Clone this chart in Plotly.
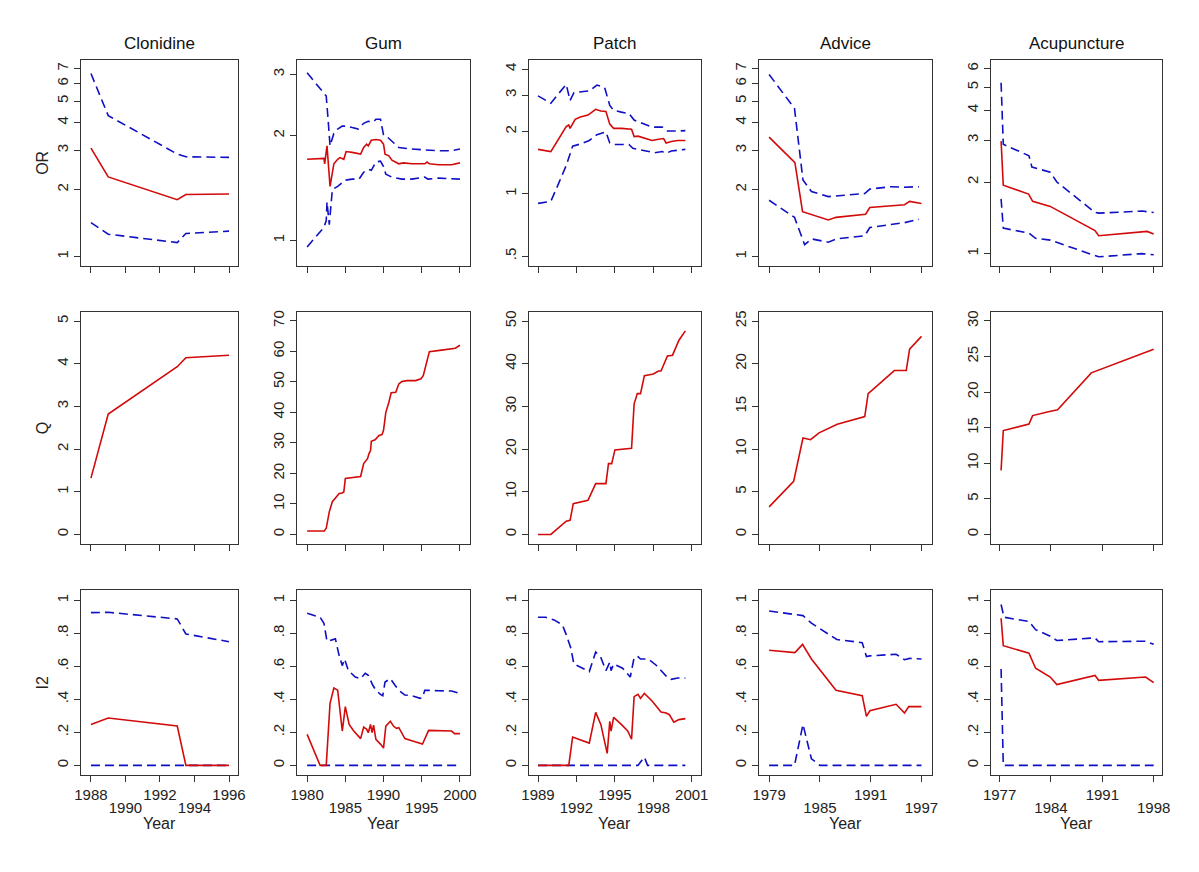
import plotly.graph_objects as go

# ---------------- DATA ----------------
panel_titles = ["Clonidine", "Gum", "Patch", "Advice", "Acupuncture"]
row_titles = ["OR", "Q", "I2"]
x_title = "Year"

# Clonidine
clon_year = [1988, 1989, 1993, 1993.5, 1996]
clon_or = [3.07, 2.28, 1.80, 1.90, 1.91]
clon_or_lo = [1.42, 1.26, 1.155, 1.27, 1.30]
clon_or_hi = [6.65, 4.30, 2.89, 2.81, 2.79]
clon_q = [1.32, 2.82, 3.93, 4.14, 4.20]
clon_i2 = [0.248, 0.287, 0.238, 0.0, 0.0]
clon_i2_lo = [0, 0, 0, 0, 0]
clon_i2_hi = [0.925, 0.927, 0.887, 0.796, 0.749]

# Gum
gum_or_year = [1980, 1982.2, 1982.3, 1982.6, 1983.0, 1983.5, 1984.0, 1984.3, 1984.8, 1985.1, 1985.9,
               1987.0, 1987.4, 1987.8, 1988.0, 1988.4, 1989.0, 1989.6, 1990.0, 1990.2, 1990.7, 1991.1,
               1992.0, 1992.6, 1993.7, 1995.4, 1995.7, 1996.0, 1997.2, 1998.9, 2000]
gum_or = [1.71, 1.72, 1.66, 1.87, 1.43, 1.66, 1.71, 1.73, 1.71, 1.80, 1.79,
          1.77, 1.85, 1.89, 1.87, 1.94, 1.95, 1.94, 1.89, 1.77, 1.75, 1.70,
          1.66, 1.67, 1.66, 1.66, 1.68, 1.66, 1.65, 1.65, 1.67]
gum_hi_year = [1980, 1981.7, 1982.2, 1982.5, 1982.7, 1983.0, 1983.5, 1984.0, 1984.6, 1985.2, 1985.9,
               1986.7, 1987.4, 1988.0, 1988.7, 1989.0, 1989.6, 1990.0, 1990.4, 1991.1, 1992.0,
               1993.7, 1997.2, 1998.9, 2000]
gum_or_hi = [3.03, 2.72, 2.63, 2.60, 2.29, 1.87, 2.03, 2.09, 2.13, 2.13, 2.11,
             2.09, 2.17, 2.20, 2.19, 2.23, 2.23, 2.01, 1.99, 1.93, 1.85,
             1.83, 1.81, 1.81, 1.83]
gum_lo_year = [1980, 1982.2, 1982.5, 1982.6, 1982.9, 1983.3, 1984.0, 1985.0, 1985.9, 1986.8, 1987.4,
               1988.0, 1988.4, 1989.0, 1989.6, 1990.0, 1990.3, 1991.1, 1992.4, 1993.7, 1995.4,
               1995.8, 1997.2, 2000]
gum_or_lo = [0.958, 1.09, 1.14, 1.29, 1.11, 1.40, 1.43, 1.49, 1.50, 1.50, 1.57,
             1.60, 1.59, 1.68, 1.69, 1.63, 1.55, 1.52, 1.50, 1.50, 1.52,
             1.50, 1.51, 1.50]
gum_q_year = [1980, 1982.25, 1982.5, 1982.9, 1983.3, 1983.8, 1984.2, 1984.6, 1984.8, 1985.0, 1985.5,
              1986.4, 1987.0, 1987.4, 1987.9, 1988.1, 1988.3, 1988.4, 1988.9, 1989.4, 1989.8,
              1990.0, 1990.3, 1990.7, 1991.0, 1991.6, 1992.0, 1992.4, 1993.1, 1994.2, 1994.9,
              1995.2, 1996.0, 1997.6, 1999.4, 2000]
gum_q = [1.1, 1.1, 2.0, 7.4, 10.7, 12.3, 13.4, 13.6, 13.9, 18.3, 18.5,
         18.8, 19.0, 23.2, 24.8, 26.5, 27.5, 30.5, 31.0, 32.4, 32.7,
         34.1, 40.0, 43.3, 46.4, 46.6, 49.3, 50.1, 50.4, 50.4, 51.0,
         52.0, 59.9, 60.4, 61.0, 62.0]
gum_i2_year = [1980, 1981.7, 1982.5, 1983.0, 1983.5, 1984.0, 1984.6, 1985.0, 1985.5, 1986.1, 1987.0,
               1987.4, 1987.8, 1988.0, 1988.3, 1988.5, 1988.7, 1989.0, 1989.6, 1989.9, 1990.0,
               1990.3, 1990.9, 1991.3, 1991.7, 1992.0, 1992.8, 1993.7, 1995.1, 1995.9, 1997.2,
               1998.9, 1999.3, 2000]
gum_i2 = [0.188, 0.0, 0.0, 0.376, 0.469, 0.455, 0.208, 0.356, 0.248, 0.208, 0.162,
          0.232, 0.218, 0.198, 0.248, 0.198, 0.244, 0.158, 0.129, 0.105, 0.105,
          0.238, 0.267, 0.238, 0.224, 0.228, 0.162, 0.149, 0.129, 0.212, 0.212,
          0.208, 0.192, 0.192]
gum_i2hi_year = [1980, 1981.7, 1982.2, 1982.6, 1983.0, 1983.7, 1984.2, 1984.6, 1984.9, 1985.4, 1986.3,
                 1987.0, 1987.6, 1988.0, 1988.6, 1989.0, 1989.6, 1989.9, 1990.2, 1990.9, 1991.5,
                 1992.0, 1992.8, 1993.7, 1994.8, 1995.1, 1995.4, 1995.9, 1997.2, 1998.9, 2000]
gum_i2_hi = [0.921, 0.897, 0.861, 0.752, 0.756, 0.766, 0.663, 0.604, 0.644, 0.574, 0.535,
             0.525, 0.558, 0.545, 0.485, 0.455, 0.430, 0.422, 0.505, 0.525, 0.485,
             0.455, 0.426, 0.422, 0.406, 0.410, 0.455, 0.455, 0.452, 0.450, 0.436]
gum_i2lo_year = [1980, 2000]
gum_i2_lo = [0, 0]

# Patch
patch_or_year = [1989, 1990, 1991.2, 1991.4, 1991.5, 1991.9, 1992.3, 1992.9, 1993.5, 1993.9, 1994.3,
                 1994.6, 1994.9, 1995.5, 1996.3, 1996.5, 1996.8, 1997.3, 1997.9, 1998.3, 1998.8,
                 1999.0, 1999.4, 1999.9, 2000.5]
patch_or = [1.64, 1.60, 2.11, 2.15, 2.07, 2.29, 2.35, 2.40, 2.56, 2.51, 2.50,
            2.17, 2.07, 2.07, 2.05, 1.89, 1.90, 1.86, 1.81, 1.83, 1.85,
            1.76, 1.79, 1.81, 1.81]
patch_hi_year = [1989, 1990, 1991.2, 1991.5, 1991.8, 1992.3, 1993.0, 1993.6, 1994.2, 1994.6, 1994.9,
                 1995.5, 1996.1, 1996.5, 1997.3, 1997.9, 1998.7, 1999.1, 1999.9, 2000.5]
patch_or_hi = [2.97, 2.74, 3.38, 2.82, 3.08, 3.10, 3.14, 3.35, 3.26, 2.67, 2.53,
               2.48, 2.44, 2.27, 2.17, 2.10, 2.10, 2.01, 2.01, 2.02]
patch_lo_year = [1989, 1990, 1990.6, 1991.2, 1991.7, 1992.3, 1993.0, 1993.6, 1994.3, 1994.6, 1994.9,
                 1996.1, 1996.4, 1997.3, 1998.1, 1998.7, 1999.0, 1999.4, 2000.2, 2000.5]
patch_or_lo = [0.90, 0.92, 1.12, 1.37, 1.70, 1.74, 1.81, 1.93, 1.99, 1.76, 1.73,
               1.73, 1.66, 1.61, 1.58, 1.60, 1.57, 1.61, 1.64, 1.64]
patch_q_year = [1989, 1990, 1991.2, 1991.5, 1991.75, 1992.9, 1993.5, 1994.3, 1994.5, 1994.75, 1995.0,
                1995.75, 1996.0, 1996.3, 1996.5, 1996.75, 1997.0, 1997.3, 1998.0, 1998.4, 1998.6,
                1999.1, 1999.5, 2000.0, 2000.5]
patch_q = [0.0, 0.0, 3.1, 3.3, 7.2, 8.0, 11.9, 11.9, 16.6, 16.6, 19.8,
           20.1, 20.2, 20.2, 30.6, 33.0, 33.0, 37.2, 37.6, 38.3, 38.3,
           41.8, 42.0, 45.5, 47.7]
patch_i2_year = [1989, 1991.4, 1991.7, 1993.0, 1993.5, 1993.9, 1994.4, 1994.6, 1994.7, 1994.9, 1995.5,
                 1996.0, 1996.3, 1996.5, 1996.8, 1997.0, 1997.3, 1997.9, 1998.6, 1999.0, 1999.25,
                 1999.6, 2000.0, 2000.5]
patch_i2 = [0.0, 0.0, 0.172, 0.135, 0.321, 0.248, 0.073, 0.267, 0.208, 0.291, 0.248,
            0.208, 0.158, 0.416, 0.430, 0.406, 0.436, 0.390, 0.323, 0.317, 0.307,
            0.261, 0.277, 0.283]
patch_i2hi_year = [1989, 1989.6, 1990.25, 1990.9, 1991.2, 1991.55, 1991.8, 1992.3, 1993.0, 1993.5, 1993.9,
                   1994.3, 1994.6, 1994.7, 1994.9, 1995.6, 1996.2, 1996.5, 1996.8, 1997.0, 1997.6,
                   1998.2, 1999.0, 1999.4, 1999.9, 2000.5]
patch_i2_hi = [0.897, 0.897, 0.881, 0.851, 0.792, 0.713, 0.614, 0.594, 0.568, 0.687, 0.653,
               0.574, 0.624, 0.574, 0.614, 0.588, 0.535, 0.653, 0.659, 0.644, 0.644,
               0.608, 0.541, 0.521, 0.529, 0.529]
patch_i2lo_year = [1989, 1996.8, 1997.3, 1997.55, 2000.5]
patch_i2_lo = [0, 0, 0.05, 0, 0]

# Advice
adv_or_year = [1979, 1982.05, 1982.95, 1986.0, 1986.9, 1990.4, 1990.9, 1995.0, 1995.6, 1997]
adv_or = [3.44, 2.64, 1.59, 1.46, 1.50, 1.55, 1.66, 1.71, 1.77, 1.73]
adv_hi_year = [1979, 1982.0, 1983.0, 1984.0, 1986.0, 1990.3, 1990.9, 1993.4, 1995.0, 1996.7]
adv_or_hi = [6.59, 4.63, 2.21, 1.96, 1.86, 1.92, 2.01, 2.06, 2.05, 2.06]
adv_lo_year = [1979, 1982.0, 1983.2, 1984.0, 1986.0, 1987.0, 1990.3, 1990.9, 1995.0, 1996.7]
adv_or_lo = [1.79, 1.50, 1.13, 1.20, 1.16, 1.20, 1.24, 1.35, 1.42, 1.47]
adv_q_year = [1979, 1981.9, 1983.0, 1983.9, 1984.9, 1987.05, 1990.3, 1990.7, 1993.8, 1995.2, 1995.6, 1997]
adv_q = [3.23, 6.22, 11.3, 11.1, 11.9, 12.9, 13.8, 16.5, 19.2, 19.2, 21.7, 23.2]
adv_i2_year = [1979, 1982.05, 1982.95, 1984.0, 1986.9, 1990.0, 1990.5, 1990.9, 1994.0, 1995.0, 1995.5, 1997]
adv_i2 = [0.697, 0.683, 0.733, 0.644, 0.455, 0.422, 0.297, 0.331, 0.370, 0.317, 0.356, 0.356]
adv_i2hi_year = [1979, 1982.0, 1983.0, 1984.0, 1986.0, 1987.0, 1990.0, 1990.5, 1990.9, 1994.0, 1995.0, 1995.6, 1997]
adv_i2_hi = [0.935, 0.911, 0.907, 0.861, 0.792, 0.762, 0.743, 0.659, 0.663, 0.673, 0.640, 0.648, 0.644]
adv_i2lo_year = [1979, 1982.0, 1983.0, 1984.0, 1985.0, 1997]
adv_i2_lo = [0, 0, 0.248, 0.04, 0, 0]

# Acupuncture
acu_or_year = [1977.2, 1977.5, 1980.95, 1981.5, 1983.9, 1990.0, 1990.5, 1997.1, 1998]
acu_or = [2.97, 1.94, 1.78, 1.66, 1.58, 1.25, 1.19, 1.24, 1.21]
acu_hi_year = [1977.2, 1977.5, 1981.0, 1981.4, 1983.9, 1984.8, 1990.0, 1990.5, 1996.4, 1998]
acu_or_hi = [5.23, 2.88, 2.58, 2.31, 2.20, 2.00, 1.49, 1.48, 1.51, 1.49]
acu_lo_year = [1977.2, 1977.5, 1981.0, 1981.9, 1983.9, 1990.0, 1990.5, 1996.4, 1998]
acu_or_lo = [1.70, 1.28, 1.22, 1.16, 1.14, 0.98, 0.97, 1.00, 0.99]
acu_q_year = [1977.2, 1977.4, 1977.5, 1981.0, 1981.5, 1983.5, 1984.9, 1989.5, 1998]
acu_q = [9.0, 13.4, 14.6, 15.5, 16.7, 17.2, 17.5, 22.7, 26.0]
acu_i2_year = [1977.2, 1977.5, 1981.0, 1981.9, 1983.9, 1984.8, 1990.0, 1990.5, 1996.9, 1998]
acu_i2 = [0.891, 0.725, 0.679, 0.588, 0.535, 0.489, 0.545, 0.515, 0.535, 0.501]
acu_i2hi_year = [1977.2, 1977.6, 1981.0, 1981.9, 1983.9, 1984.8, 1990.0, 1990.5, 1996.9, 1998]
acu_i2_hi = [0.974, 0.897, 0.871, 0.822, 0.782, 0.756, 0.772, 0.749, 0.752, 0.733]
acu_i2lo_year = [1977.2, 1977.5, 1998]
acu_i2_lo = [0.584, 0, 0]

# tick labels
x_tickvals = [
    [1988, 1990, 1992, 1994, 1996],
    [1980, 1985, 1990, 1995, 2000],
    [1989, 1992, 1995, 1998, 2001],
    [1979, 1985, 1991, 1997],
    [1977, 1984, 1991, 1998],
]
or_tickvals = [
    [1, 2, 3, 4, 5, 6, 7],
    [1, 2, 3],
    [0.5, 1, 2, 3, 4],
    [1, 2, 3, 4, 5, 6, 7],
    [1, 2, 3, 4, 5, 6],
]
or_ticktext = [
    ["1", "2", "3", "4", "5", "6", "7"],
    ["1", "2", "3"],
    [".5", "1", "2", "3", "4"],
    ["1", "2", "3", "4", "5", "6", "7"],
    ["1", "2", "3", "4", "5", "6"],
]
q_tickvals = [
    [0, 1, 2, 3, 4, 5],
    [0, 10, 20, 30, 40, 50, 60, 70],
    [0, 10, 20, 30, 40, 50],
    [0, 5, 10, 15, 20, 25],
    [0, 5, 10, 15, 20, 25, 30],
]
i2_tickvals = [0, 0.2, 0.4, 0.6, 0.8, 1]
i2_ticktext = ["0", ".2", ".4", ".6", ".8", "1"]

# ---------------- LAYOUT GEOMETRY ----------------
W, H = 1199, 872
col_px = [(66, 225), (285, 460), (520, 694), (753, 928), (988, 1162)]
row_px = [(51, 257), (303, 536), (582, 767)]
title_y = 35
xtitle_y = 815
x_ranges = [(1987.43, 1996.52), (1978.7, 2001.3), (1988.3, 2001.7), (1977.8, 1998.2), (1975.8, 1999.2)]
or_ranges = [(-0.0414, 0.884), (-0.0726, 0.5185), (-0.3468, 0.6464), (-0.0414, 0.884), (-0.0506, 0.814)]
q_ranges = [(-0.233, 5.22), (-3.27, 73.0), (-2.33, 52.2), (-1.17, 26.1), (-1.4, 31.3)]
i2_range = (-0.059, 1.06)

RED = "rgb(210,10,10)"
BLUE = "rgb(15,15,195)"
AX = "#333333"
FONT = "Liberation Sans, Arial, sans-serif"
TXT = "#222222"

panels = [
    dict(
        orx=clon_year, ory=clon_or, hix=clon_year, hiy=clon_or_hi, lox=clon_year, loy=clon_or_lo,
        qx=clon_year, qy=clon_q, ix=clon_year, iy=clon_i2, ihx=clon_year, ihy=clon_i2_hi,
        ilx=clon_year, ily=clon_i2_lo),
    dict(
        orx=gum_or_year, ory=gum_or, hix=gum_hi_year, hiy=gum_or_hi, lox=gum_lo_year, loy=gum_or_lo,
        qx=gum_q_year, qy=gum_q, ix=gum_i2_year, iy=gum_i2, ihx=gum_i2hi_year, ihy=gum_i2_hi,
        ilx=gum_i2lo_year, ily=gum_i2_lo),
    dict(
        orx=patch_or_year, ory=patch_or, hix=patch_hi_year, hiy=patch_or_hi, lox=patch_lo_year, loy=patch_or_lo,
        qx=patch_q_year, qy=patch_q, ix=patch_i2_year, iy=patch_i2, ihx=patch_i2hi_year, ihy=patch_i2_hi,
        ilx=patch_i2lo_year, ily=patch_i2_lo),
    dict(
        orx=adv_or_year, ory=adv_or, hix=adv_hi_year, hiy=adv_or_hi, lox=adv_lo_year, loy=adv_or_lo,
        qx=adv_q_year, qy=adv_q, ix=adv_i2_year, iy=adv_i2, ihx=adv_i2hi_year, ihy=adv_i2_hi,
        ilx=adv_i2lo_year, ily=adv_i2_lo),
    dict(
        orx=acu_or_year, ory=acu_or, hix=acu_hi_year, hiy=acu_or_hi, lox=acu_lo_year, loy=acu_or_lo,
        qx=acu_q_year, qy=acu_q, ix=acu_i2_year, iy=acu_i2, ihx=acu_i2hi_year, ihy=acu_i2_hi,
        ilx=acu_i2lo_year, ily=acu_i2_lo),
]

fig = go.Figure()
layout = {}
annotations = []

solid = dict(color=RED, width=1.6)
dashed = dict(color=BLUE, width=1.6, dash="9px,5px")


def axname(n, kind):
    return kind + ("" if n == 1 else str(n))


tickfont = dict(family=FONT, size=15, color=TXT)
common = dict(showline=True, mirror=True, linecolor=AX, linewidth=1.2, ticks="outside",
              ticklen=6, tickcolor=AX, tickwidth=1.2, showgrid=False, zeroline=False,
              tickfont=tickfont)

n = 0
for r in range(3):
    for c in range(5):
        n += 1
        xa = axname(n, "xaxis")
        ya = axname(n, "yaxis")
        xref = axname(n, "x")
        yref = axname(n, "y")
        p = panels[c]
        if r == 0:
            traces = [(p["lox"], p["loy"], dashed), (p["hix"], p["hiy"], dashed), (p["orx"], p["ory"], solid)]
        elif r == 1:
            traces = [(p["qx"], p["qy"], solid)]
        else:
            traces = [(p["ilx"], p["ily"], dashed), (p["ihx"], p["ihy"], dashed), (p["ix"], p["iy"], solid)]
        for tx, ty, ln in traces:
            fig.add_trace(go.Scatter(x=tx, y=ty, mode="lines", line=ln, xaxis=xref, yaxis=yref,
                                     showlegend=False, hoverinfo="skip"))

        x0, x1 = col_px[c]
        y0, y1 = row_px[r]
        xt = x_tickvals[c]
        first_row = [str(v) if i % 2 == 0 else "" for i, v in enumerate(xt)]
        xd = dict(common, domain=[x0 / W, x1 / W], range=list(x_ranges[c]), anchor=yref,
                  tickmode="array", tickvals=xt, ticktext=first_row, showticklabels=(r == 2),
                  tickangle=0)
        if r == 0:
            yd = dict(common, type="log", range=list(or_ranges[c]), tickmode="array",
                      tickvals=or_tickvals[c], ticktext=or_ticktext[c])
        elif r == 1:
            yd = dict(common, range=list(q_ranges[c]), tickmode="array", tickvals=q_tickvals[c])
        else:
            yd = dict(common, range=list(i2_range), tickmode="array", tickvals=i2_tickvals,
                      ticktext=i2_ticktext)
        yd.update(domain=[1 - y1 / H, 1 - y0 / H], anchor=xref, tickangle=-90)
        if c == 0:
            yd["title"] = dict(text=row_titles[r], font=dict(family=FONT, size=16, color=TXT), standoff=1)
        layout[xa] = xd
        layout[ya] = yd

# second (staggered) row of year labels on overlaying axes of the bottom row
for c in range(5):
    base = 10 + c + 1
    m = 15 + c + 1
    x0, x1 = col_px[c]
    xt = x_tickvals[c]
    second_row = ["" if i % 2 == 0 else str(v) for i, v in enumerate(xt)]
    layout[axname(m, "xaxis")] = dict(
        domain=[x0 / W, x1 / W], range=list(x_ranges[c]), anchor=axname(base, "y"),
        overlaying=axname(base, "x"), side="bottom", showline=False, showgrid=False, zeroline=False,
        ticks="outside", ticklen=6, tickcolor="rgba(0,0,0,0)", tickmode="array", tickvals=xt,
        ticktext=second_row, tickangle=0, tickfont=tickfont, ticklabelstandoff=13)
    fig.add_trace(go.Scatter(x=[xt[0]], y=[0], mode="markers", marker=dict(opacity=0),
                             xaxis=axname(m, "x"), yaxis=axname(base, "y"),
                             showlegend=False, hoverinfo="skip"))
    annotations.append(dict(text=x_title, x=(x0 + x1) / 2 / W, y=1 - xtitle_y / H, xref="paper",
                            yref="paper", showarrow=False, xanchor="center", yanchor="middle",
                            font=dict(family=FONT, size=16, color=TXT)))

for c in range(5):
    x0, x1 = col_px[c]
    annotations.append(dict(text=panel_titles[c], x=(x0 + x1) / 2 / W, y=1 - title_y / H, xref="paper",
                            yref="paper", showarrow=False, xanchor="center", yanchor="middle",
                            font=dict(family=FONT, size=17, color="#111")))

fig.update_layout(**layout)
fig.update_layout(width=W, height=H, margin=dict(l=0, r=0, t=0, b=0), paper_bgcolor="white",
                  plot_bgcolor="white", annotations=annotations, font=dict(family=FONT, color=TXT))
fig.write_html("out.html")
